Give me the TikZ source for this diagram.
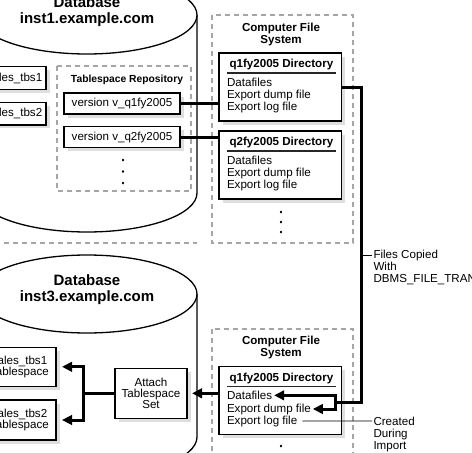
\documentclass[tikz,border=0pt]{standalone}
\usepackage{fontspec}
\setmainfont{Liberation Sans}
\usetikzlibrary{arrows.meta,shadows}
\tikzset{
  every node/.style={inner sep=0pt, outer sep=0pt},
  txt/.style={font=\fontsize{11.6}{12}\selectfont},
  btxt/.style={font=\bfseries\fontsize{11.6}{12}\selectfont},
  bigtxt/.style={font=\bfseries\fontsize{15}{16}\selectfont, align=center},
  box/.style={draw=black, line width=1.1pt, fill=white,
    drop shadow={shadow xshift=3.5pt, shadow yshift=-3.5pt, fill=black!13, opacity=1},
    txt, align=center},
  dashbox/.style={draw=black!35, line width=2.3pt, dash pattern=on 5pt off 4pt},
  cyl/.style={draw=black, line width=1.3pt},
  thk/.style={line width=3pt},
  tip/.style={-{Triangle[length=10pt,width=9.5pt]}},
  lbl/.style={line width=0.8pt},
  dot/.style={fill=black},
}
\begin{document}
\begin{tikzpicture}[x=1pt,y=-1pt]
\useasboundingbox (0,0) rectangle (472,453);
\clip (0,0) rectangle (472,453);

% ---------- upper database cylinder ----------
\fill[white] (-23,15) -- (-23,193) arc[start angle=180,end angle=360,x radius=110pt,y radius=39pt] -- (197,15) -- cycle;
\draw[cyl] (-23,15) -- (-23,193) arc[start angle=180,end angle=360,x radius=110pt,y radius=39pt] -- (197,15);
\draw[cyl, fill=white] (87,15) ellipse [x radius=110pt, y radius=39pt];
\node[bigtxt] (db1) at (87,12) {Database\\inst1.example.com};

\node[box, minimum width=63pt, minimum height=22.5pt] (s1) at (14.5,78) {sales\_tbs1};
\node[box, minimum width=63pt, minimum height=22.5pt] (s2) at (14.5,113.7) {sales\_tbs2};

\draw[dashbox] (57,66) rectangle (191,191);
\node[font=\bfseries\fontsize{10.3}{12}\selectfont] (rep) at (127,80) {Tablespace Repository};
\node[box, minimum width=116pt, minimum height=21pt] (v1) at (122,103.5) {version v\_q1fy2005};
\node[box, minimum width=116pt, minimum height=21pt] (v2) at (122,137) {version v\_q2fy2005};
\foreach \yy in {160,171.5,183} \fill[dot] (123,\yy) ellipse [x radius=1.2pt, y radius=1.5pt];

\draw[dashbox] (-5,243) -- (197,243);

% ---------- upper computer file system ----------
\draw[dashbox] (212,15) rectangle (353,243);
\node[btxt, align=center] (cfs1) at (281,34) {Computer File\\System};

\node[box, anchor=north west, minimum width=122.5pt, minimum height=68pt] (q1) at (219,53) {};
\node[btxt, anchor=base west] (q1t) at (229.5,67.5) {q1fy2005 Directory};
\draw[line width=1.2pt, black!85] (227,73) -- (336,73);
\node[txt, anchor=base west] (q1df) at (227,86.5) {Datafiles};
\node[txt, anchor=base west] (q1dump) at (227,98.5) {Export dump file};
\node[txt, anchor=base west] (q1log) at (227,110.5) {Export log file};

\node[box, anchor=north west, minimum width=122.5pt, minimum height=68pt] (q2) at (219,131) {};
\node[btxt, anchor=base west] (q2t) at (229.5,145.5) {q2fy2005 Directory};
\draw[line width=1.2pt, black!85] (227,151) -- (336,151);
\node[txt, anchor=base west] (q2df) at (227,164.5) {Datafiles};
\node[txt, anchor=base west] (q2dump) at (227,176.5) {Export dump file};
\node[txt, anchor=base west] (q2log) at (227,188.5) {Export log file};

\foreach \yy in {212,222,232} \fill[dot] (281,\yy) ellipse [x radius=1.2pt, y radius=1.5pt];

\draw[thk] (v1.east) -- (q1.west |- v1.east);
\draw[thk] (v2.east) -- (q2.west |- v2.east);

% ---------- lower database cylinder ----------
\fill[white] (-23,294) -- (-23,437) arc[start angle=180,end angle=360,x radius=110pt,y radius=39pt] -- (197,294) -- cycle;
\draw[cyl] (-23,294) -- (-23,437) arc[start angle=180,end angle=360,x radius=110pt,y radius=39pt] -- (197,294);
\draw[cyl, fill=white] (87,294) ellipse [x radius=110pt, y radius=39pt];
\node[bigtxt] (db3) at (87,290) {Database\\inst3.example.com};

\node[box, minimum width=73pt, minimum height=38.5pt, font=\fontsize{11.6}{11.6}\selectfont] (t1) at (19.5,366.8) {sales\_tbs1\\Tablespace};
\node[box, minimum width=73pt, minimum height=40pt, font=\fontsize{11.6}{11.6}\selectfont] (t2) at (19.5,420) {sales\_tbs2\\Tablespace};
\node[box, minimum width=72pt, minimum height=50pt, font=\fontsize{11.6}{11}\selectfont] (att) at (151,393.3) {Attach\\Tablespace\\Set};

% ---------- lower computer file system ----------
\draw[dashbox] (212,329) rectangle (353,480);
\node[btxt, align=center] (cfs3) at (281,347.5) {Computer File\\System};

\node[box, anchor=north west, minimum width=122.5pt, minimum height=68pt] (q3) at (219,366.5) {};
\node[btxt, anchor=base west] (q3t) at (229.5,381) {q1fy2005 Directory};
\draw[line width=1.2pt, black!85] (227,386.5) -- (336,386.5);
\node[txt, anchor=base west] (q3df) at (227,399.5) {Datafiles};
\node[txt, anchor=base west] (q3dump) at (227,412) {Export dump file};
\node[txt, anchor=base west] (q3log) at (227,424) {Export log file};
\fill[dot] (281,446) ellipse [x radius=1.2pt, y radius=1.5pt];

% ---------- connectors ----------
\coordinate (turn) at (361,402);
\coordinate (br) at (335,402);
\draw[thk] (q1.east) -| (turn) -- (br);
\draw[thk, tip] (br) -- (br |- q3df.east) -- ([xshift=2pt]q3df.east);
\draw[thk, tip] (br) -- (br |- q3dump.east) -- ([xshift=2pt]q3dump.east);

\draw[thk, tip] (q3.west |- att.east) -- ([xshift=5pt]att.east);
\coordinate (fork) at (83,393.3);
\draw[thk] (att.west) -- (fork);
\draw[thk, tip] (fork) |- ([xshift=6pt]t1.east);
\draw[thk, tip] (fork) |- ([xshift=6pt]t2.east);

% ---------- annotations ----------
\coordinate (fcl) at (372,255);
\draw[lbl] (361,255) -- (fcl);
\node[txt, anchor=west, align=left, font=\fontsize{11.6}{12}\selectfont] (fc) at (373.5,267) {Files Copied\\With\\DBMS\_FILE\_TRANS};

\coordinate (crl) at (372,421);
\draw[lbl] ([xshift=5pt]q3log.east) -- (crl);
\node[txt, anchor=west, align=left, font=\fontsize{11.6}{11.7}\selectfont] (cr) at (373.5,434.3) {Created\\During\\Import};
\end{tikzpicture}
\end{document}
